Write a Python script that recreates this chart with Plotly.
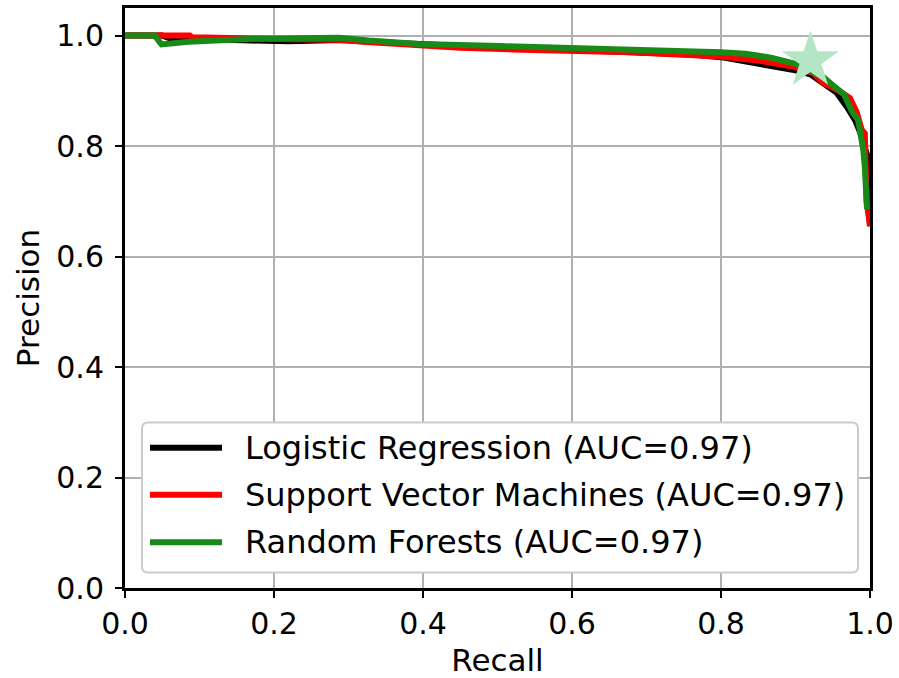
import plotly.graph_objects as go

# ---- data ----
lr_recall = [0.0, 0.05, 0.06, 0.10, 0.17, 0.22, 0.29, 0.33, 0.40, 0.50, 0.60, 0.66, 0.72, 0.76,
             0.80, 0.84, 0.88, 0.90, 0.92, 0.94, 0.955, 0.969, 0.980, 0.987, 0.993, 0.997, 1.0]
lr_precision = [1.0, 1.0, 0.995, 0.993, 0.991, 0.990, 0.992, 0.989, 0.984, 0.978, 0.974, 0.971,
                0.968, 0.966, 0.961, 0.952, 0.944, 0.937, 0.930, 0.912, 0.897, 0.871, 0.847,
                0.824, 0.80, 0.78, 0.655]

svm_recall = [0.0, 0.087, 0.09, 0.17, 0.22, 0.29, 0.33, 0.40, 0.45, 0.52, 0.60, 0.68, 0.72,
              0.745, 0.80, 0.85, 0.90, 0.924, 0.937, 0.956, 0.973, 0.982, 0.989, 0.993, 0.9955, 1.0]
svm_precision = [1.0, 1.0, 0.997, 0.995, 0.994, 0.992, 0.988, 0.981, 0.978, 0.975, 0.973, 0.970,
                 0.967, 0.965, 0.962, 0.955, 0.943, 0.932, 0.914, 0.902, 0.887, 0.862, 0.829,
                 0.823, 0.70, 0.655]

rf_recall = [0.0, 0.04, 0.049, 0.085, 0.166, 0.22, 0.287, 0.327, 0.395, 0.503, 0.597, 0.664,
             0.745, 0.80, 0.833, 0.867, 0.90, 0.938, 0.951, 0.965, 0.976, 0.984, 0.991, 0.993,
             0.996]
rf_precision = [1.0, 1.0, 0.984, 0.989, 0.994, 0.995, 0.996, 0.991, 0.985, 0.981, 0.978, 0.975,
                0.973, 0.970, 0.967, 0.960, 0.949, 0.924, 0.909, 0.894, 0.862, 0.847, 0.793,
                0.763, 0.686]

best_recall = [0.92]
best_precision = [0.955]

series_names = ["Logistic Regression (AUC=0.97)",
                "Support Vector Machines (AUC=0.97)",
                "Random Forests (AUC=0.97)"]
series_colors = ["#000000", "#ff0000", "#178a17"]

x_ticks = [0.0, 0.2, 0.4, 0.6, 0.8, 1.0]
y_ticks = [0.0, 0.2, 0.4, 0.6, 0.8, 1.0]

FONT = "DejaVu Sans"

fig = go.Figure()
for xs, ys, name, col in zip([lr_recall, svm_recall, rf_recall],
                             [lr_precision, svm_precision, rf_precision],
                             series_names, series_colors):
    fig.add_trace(go.Scatter(x=xs, y=ys, mode="lines", name=name,
                             line=dict(color=col, width=6), showlegend=False))

fig.add_trace(go.Scatter(x=best_recall, y=best_precision, mode="markers",
                         marker=dict(symbol="star", size=43, color="#b4e5c5",
                                     line=dict(width=0)),
                         showlegend=False, name="best"))

# ---- manual legend (matplotlib style) ----
def px_x(p):
    return (p - 125) / 745.0

def px_y(p):
    return (587.4 - p) / 551.7

bx0, bx1 = px_x(142), px_x(858)
by0, by1 = px_y(572), px_y(422)
rx, ry = 6 / 745.0, 6 / 551.7
path = (f"M {bx0+rx},{by1} L {bx1-rx},{by1} Q {bx1},{by1} {bx1},{by1-ry} "
        f"L {bx1},{by0+ry} Q {bx1},{by0} {bx1-rx},{by0} L {bx0+rx},{by0} "
        f"Q {bx0},{by0} {bx0},{by0+ry} L {bx0},{by1-ry} Q {bx0},{by1} {bx0+rx},{by1} Z")
shapes = [dict(type="path", path=path, xref="x", yref="y", layer="above",
               fillcolor="white", line=dict(color="#cccccc", width=2))]
annotations = []
rows = [447.3, 494.3, 541.7]
for ry_px, name, col in zip(rows, series_names, series_colors):
    yy = px_y(ry_px)
    shapes.append(dict(type="line", xref="x", yref="y", layer="above",
                       x0=px_x(150), x1=px_x(222), y0=yy, y1=yy,
                       line=dict(color=col, width=6)))
    annotations.append(dict(x=px_x(243), y=yy, xref="x", yref="y", text=name,
                            showarrow=False, xanchor="left", yanchor="middle",
                            font=dict(family=FONT, size=32, color="black")))

fig.update_layout(
    width=899, height=678,
    margin=dict(l=125, r=29, t=8, b=90),
    paper_bgcolor="white", plot_bgcolor="white",
    font=dict(family=FONT, size=30, color="black"),
    shapes=shapes, annotations=annotations,
    showlegend=False,
)
axis_common = dict(showline=True, linecolor="black", linewidth=3, mirror=True,
                   showgrid=True, gridcolor="#b0b0b0", gridwidth=2,
                   ticks="outside", ticklen=7, tickwidth=2, tickcolor="black",
                   zeroline=False, automargin=False,
                   tickfont=dict(family=FONT, size=30, color="black"))
fig.update_xaxes(range=[0, 1.0], tickvals=x_ticks, ticktext=[f"{v:.1f}" for v in x_ticks],
                 title=dict(text="Recall", font=dict(family=FONT, size=31), standoff=16),
                 **axis_common)
fig.update_yaxes(range=[0, 1.05], tickvals=y_ticks, ticktext=[f"{v:.1f}" for v in y_ticks],
                 title=dict(text="Precision", font=dict(family=FONT, size=31), standoff=8),
                 ticklabelstandoff=5, **axis_common)

fig.write_html("out.html", config={"displayModeBar": False},
               post_script="document.body.style.margin='0';"
                           "document.body.style.overflow='hidden';")
